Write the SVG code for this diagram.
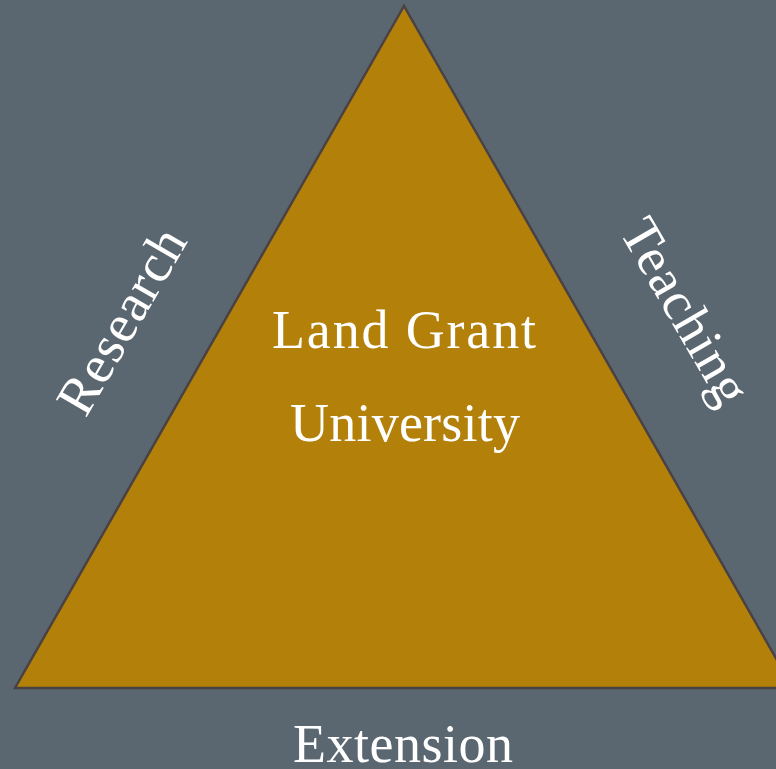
<svg xmlns="http://www.w3.org/2000/svg" width="776" height="769" viewBox="0 0 776 769">
<style>
.lbl{font-family:"Liberation Serif","DejaVu Serif",serif;font-size:54px;fill:#ffffff;text-anchor:middle}
</style>
<rect x="0" y="0" width="776" height="769" fill="#5b6770"/>
<g id="triangle">
<polygon points="404,6 15,688 793,688" fill="#b38009" stroke="#4a4242" stroke-width="2.5" stroke-linejoin="miter"/>
<text class="lbl" x="404" y="348" textLength="264" lengthAdjust="spacing">Land Grant</text>
<text class="lbl" x="405" y="441" textLength="230" lengthAdjust="spacing">University</text>
</g>
<g id="research"><text class="lbl" transform="translate(137,330) rotate(-60)" x="0" y="0" textLength="205" lengthAdjust="spacing">Research</text></g>
<g id="teaching"><text class="lbl" transform="translate(670,320) rotate(60)" x="0" y="0" textLength="205" lengthAdjust="spacing">Teaching</text></g>
<g id="extension"><text class="lbl" x="403" y="762" textLength="220" lengthAdjust="spacing">Extension</text></g>
<g id="connectors"></g>
</svg>
